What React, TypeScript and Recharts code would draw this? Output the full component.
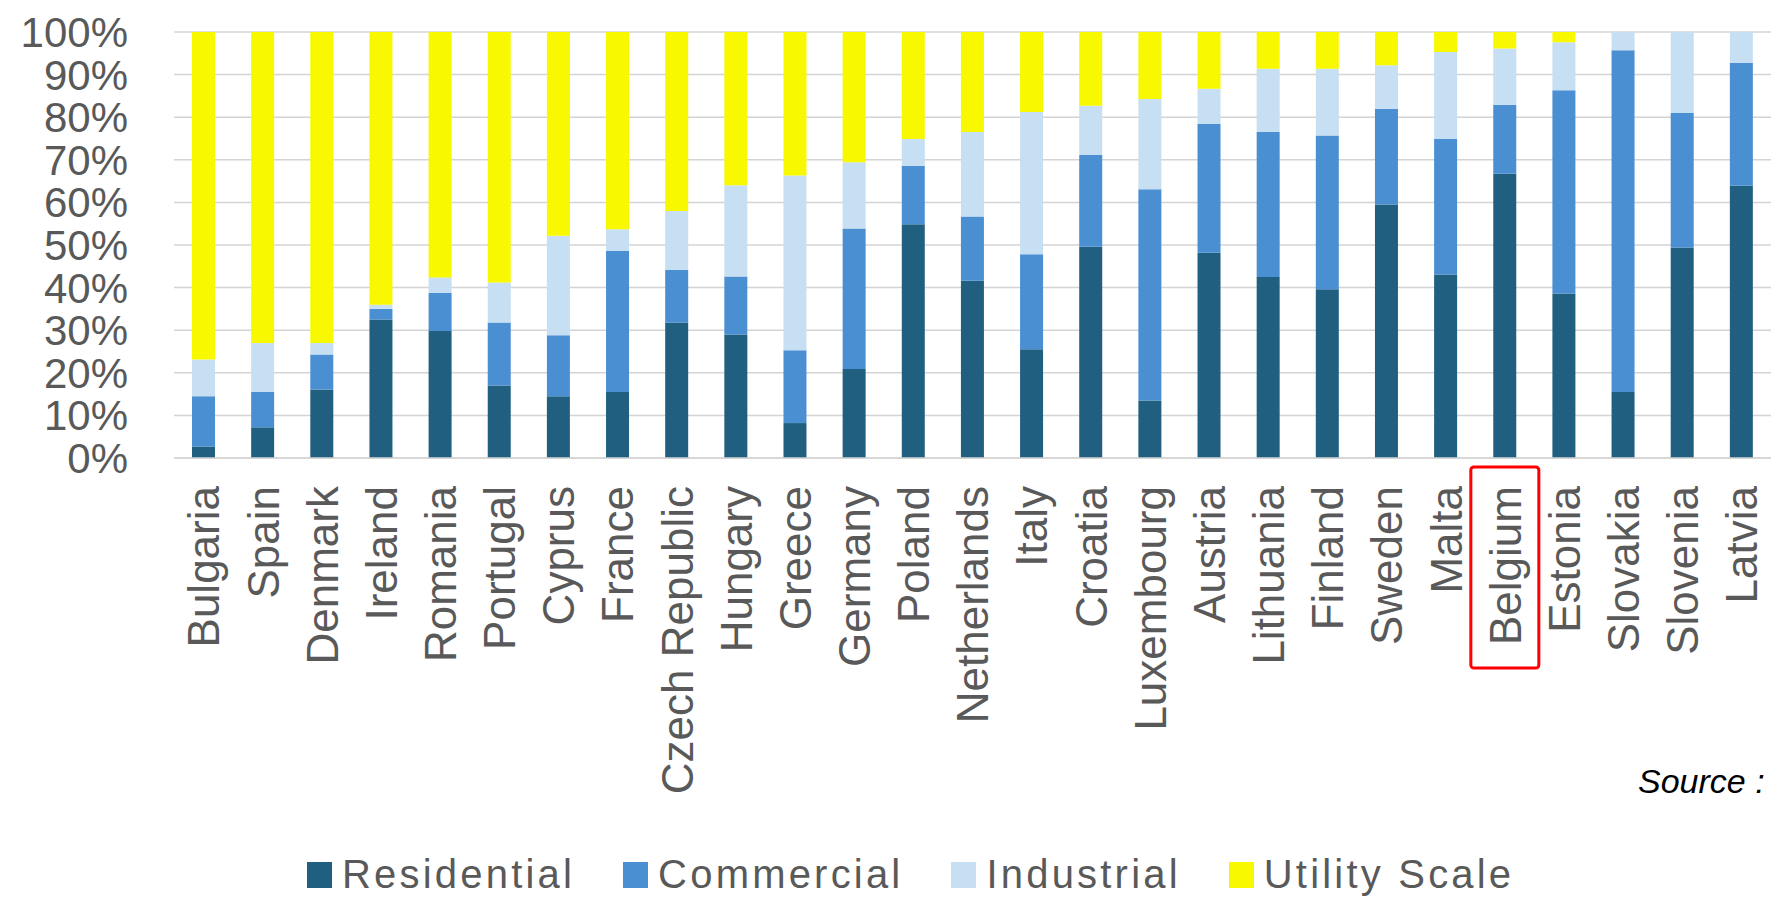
import { BarChart, Bar, XAxis, YAxis, CartesianGrid } from 'recharts';

const countries = [
  'Bulgaria', 'Spain', 'Denmark', 'Ireland', 'Romania', 'Portugal', 'Cyprus', 'France', 'Czech Republic',
  'Hungary', 'Greece', 'Germany', 'Poland', 'Netherlands', 'Italy', 'Croatia', 'Luxembourg', 'Austria',
  'Lithuania', 'Finland', 'Sweden', 'Malta', 'Belgium', 'Estonia', 'Slovakia', 'Slovenia', 'Latvia',
];

const residential = [2.7, 7.2, 16.1, 32.5, 29.8, 17, 14.5, 15.5, 31.8, 29, 8.2, 20.9, 54.9, 41.6, 25.5, 49.6, 13.5, 48.2, 42.5, 39.6, 59.5, 43.1, 66.7, 38.6, 15.5, 49.4, 63.9];
const commercial = [11.8, 8.3, 8.2, 2.5, 9.0, 14.8, 14.3, 33.1, 12.4, 13.6, 17.1, 33, 13.7, 15.1, 22.3, 21.5, 49.6, 30.2, 34, 36.1, 22.5, 31.8, 16.2, 47.7, 80.2, 31.6, 28.9];
const industrial = [8.6, 11.5, 2.7, 1.0, 3.6, 9.4, 23.4, 5.1, 13.8, 21.4, 41, 15.5, 6.3, 19.8, 33.4, 11.6, 21.2, 8.3, 14.9, 15.7, 10.2, 20.4, 13.2, 11.3, 4.3, 19, 7.2];
const utility = [76.9, 73, 73, 64, 57.6, 58.8, 47.8, 46.3, 42, 36, 33.7, 30.6, 25.1, 23.5, 18.8, 17.3, 15.7, 13.3, 8.6, 8.6, 7.8, 4.7, 3.9, 2.4, 0, 0, 0];

const yTicks = [0, 10, 20, 30, 40, 50, 60, 70, 80, 90, 100];
const highlighted = 'Belgium';

const series = [
  { key: 'residential', name: 'Residential', color: '#215f80' },
  { key: 'commercial', name: 'Commercial', color: '#4b8fd3' },
  { key: 'industrial', name: 'Industrial', color: '#c6dff2' },
  { key: 'utility', name: 'Utility Scale', color: '#f8f800' },
];

const data = countries.map((country, i) => ({
  country,
  residential: residential[i],
  commercial: commercial[i],
  industrial: industrial[i],
  utility: utility[i],
}));

const FONT = '"Liberation Sans", Arial, sans-serif';

function CountryTick({ x, y, payload }: { x?: number; y?: number; payload?: { value: string } }) {
  const label = payload?.value ?? '';
  const cx = Number(x);
  const cy = Number(y);
  return (
    <g>
      {label === highlighted && (
        <rect x={cx - 34} y={cy - 19} width={68} height={201} rx={3} fill="none" stroke="#ff0000" strokeWidth={3} />
      )}
      <text
        x={cx}
        y={cy}
        transform={`rotate(-90 ${cx} ${cy})`}
        textAnchor="end"
        dy="0.36em"
        fontSize={44}
        fontFamily={FONT}
        fill="#595959"
      >
        {label}
      </text>
    </g>
  );
}

function ChartLegend() {
  return (
    <div
      style={{
        position: 'absolute',
        left: 307,
        top: 852,
        display: 'flex',
        alignItems: 'center',
        gap: 48,
        fontFamily: FONT,
        fontSize: 40,
        letterSpacing: 3.2,
        color: '#595959',
        whiteSpace: 'nowrap',
      }}
    >
      {series.map((s) => (
        <span key={s.key} style={{ display: 'inline-flex', alignItems: 'center', gap: 10 }}>
          <span style={{ width: 25, height: 26, background: s.color, display: 'inline-block' }} aria-hidden="true" />
          {s.name}
        </span>
      ))}
    </div>
  );
}

export default function App() {
  return (
    <div style={{ position: 'absolute', left: 0, top: 0, width: 1776, height: 906, background: '#fff', overflow: 'hidden' }}>
      <BarChart
        width={1776}
        height={906}
        data={data}
        margin={{ top: 32, right: 5, left: 0, bottom: 108 }}
        barSize={23}
      >
        <CartesianGrid stroke="#d4d4d4" strokeWidth={1.5} vertical={false} />
        <XAxis
          dataKey="country"
          interval={0}
          height={340}
          tickLine={false}
          tickSize={0}
          tickMargin={28}
          axisLine={{ stroke: '#d4d4d4', strokeWidth: 1.5 }}
          tick={<CountryTick />}
        />
        <YAxis
          width={174}
          domain={[0, 100]}
          ticks={yTicks}
          interval={0}
          allowDataOverflow
          tickFormatter={(v: number) => `${v}%`}
          tickLine={false}
          axisLine={false}
          tickSize={0}
          tickMargin={46}
          tick={{ fill: '#595959', fontSize: 42, fontFamily: FONT }}
        />
        {series.map((s) => (
          <Bar key={s.key} dataKey={s.key} name={s.name} stackId="mix" fill={s.color} isAnimationActive={false} />
        ))}
      </BarChart>
      <ChartLegend />
      <div
        style={{
          position: 'absolute',
          left: 1638,
          top: 762,
          fontFamily: FONT,
          fontStyle: 'italic',
          fontSize: 34,
          color: '#000',
          whiteSpace: 'nowrap',
        }}
      >
        Source :
      </div>
    </div>
  );
}
